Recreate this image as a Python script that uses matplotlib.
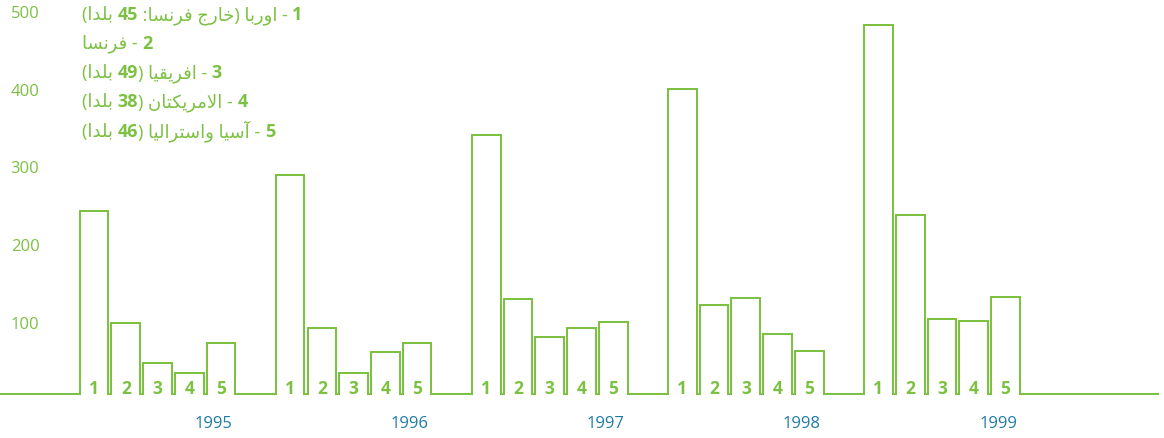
import re
import unicodedata
import matplotlib
matplotlib.use("Agg")
import matplotlib.pyplot as plt

# ---------------- data ----------------
years = ["1995", "1996", "1997", "1998", "1999"]
bar_labels = ["1", "2", "3", "4", "5"]
v1995 = [236, 92, 40, 28, 66]
v1996 = [283, 85, 27, 55, 66]
v1997 = [334, 123, 74, 86, 93]
v1998 = [394, 115, 124, 78, 56]
v1999 = [476, 231, 97, 94, 125]
values = [v1995, v1996, v1997, v1998, v1999]
ytick_values = [100, 200, 300, 400, 500]
legend_items = [
    "اوربا (خارج فرنسا: 45 بلدا)",
    "فرنسا",
    "افريقيا (49 بلدا)",
    "الامريكتان (38 بلدا)",
    "آسيا واستراليا (46 بلدا)",
]

# ---------------- style ----------------
GREEN = "#7cc142"
BLUE = "#1f7ca6"
FONT = ["Open Sans", "DejaVu Sans"]
plt.rcParams["font.family"] = FONT

GROUP_PITCH = 6.176   # in bar-pitch units
BAR_W = 0.904

# ---------------- Arabic shaping / bidi helpers ----------------
RIGHT_JOIN = set("اآأإدذرزوؤة")
ALEFS = set("اآأإ")


def is_ar(c):
    return "\u0621" <= c <= "\u064A"


def joins_next(c):
    return is_ar(c) and c not in RIGHT_JOIN and c != "ء"


def pres(c, form):
    try:
        return unicodedata.lookup(unicodedata.name(c) + " " + form + " FORM")
    except KeyError:
        return c


def shape(s):
    out = []
    i = 0
    n = len(s)
    while i < n:
        c = s[i]
        if not is_ar(c):
            out.append(c)
            i += 1
            continue
        prev_c = s[i - 1] if i > 0 else ""
        pc = bool(prev_c) and joins_next(prev_c)
        if c == "ل" and i + 1 < n and s[i + 1] in ALEFS:
            form = "FINAL" if pc else "ISOLATED"
            out.append(unicodedata.lookup("ARABIC LIGATURE LAM WITH ALEF " + form + " FORM"))
            i += 2
            continue
        next_c = s[i + 1] if i + 1 < n else ""
        nc = joins_next(c) and bool(next_c) and is_ar(next_c)
        if pc and nc:
            f = "MEDIAL"
        elif pc:
            f = "FINAL"
        elif nc:
            f = "INITIAL"
        else:
            f = "ISOLATED"
        out.append(pres(c, f))
        i += 1
    return "".join(out)


def rtl_visual(s):
    v = shape(s)[::-1]
    v = re.sub(r"\d+", lambda m: m.group(0)[::-1], v)
    v = v.translate(str.maketrans("()", ")("))
    return v


# ---------------- figure ----------------
fig = plt.figure(figsize=(11.64, 4.38), dpi=100)
ax = fig.add_axes([0, 0, 1, 1])
ax.set_xlim(-2.51, 34.15)
ax.set_ylim(-56.3, 508.1)
ax.axis("off")

# continuous outline path (baseline + bars)
xs = [-2.6]
ys = [0]
for g, vals in enumerate(values):
    for k, v in enumerate(vals):
        left = g * GROUP_PITCH + k
        right = left + BAR_W
        xs += [left, left, right, right]
        ys += [0, v, v, 0]
        ax.text((left + right) / 2, 0.5, bar_labels[k], ha="center", va="baseline",
                fontsize=12.5, fontweight="bold", color=GREEN)
    ax.text(g * GROUP_PITCH + 4.22, -43.5, years[g], ha="center", va="baseline",
            fontsize=12, color=BLUE)
xs.append(33.97)
ys.append(0)
ax.plot(xs, ys, color=GREEN, lw=1.45, solid_joinstyle="miter")

# y tick labels (top of digits at value)
for t in ytick_values:
    ax.text(-1.72, t, str(t), ha="center", va="top", fontsize=12, color=GREEN)

# legend (right-to-left lines, numbers bold)
line_baselines = [482.0, 445.5, 407.5, 370.0, 331.5]
x0 = 82 / 1164
for i, item in enumerate(legend_items):
    logical = f"{i + 1} - {item}"
    visual = rtl_visual(logical)
    parts = [p for p in re.split(r"(\d+)", visual) if p != ""]
    prev = None
    for p in parts:
        weight = "bold" if p.isdigit() else "normal"
        if prev is None:
            prev = ax.text(x0, line_baselines[i], p, transform=ax.get_yaxis_transform(),
                           ha="left", va="baseline", fontsize=13, fontweight=weight,
                           color=GREEN)
        else:
            prev = ax.annotate(p, xy=(1, line_baselines[i]), xycoords=(prev, "data"),
                               ha="left", va="baseline", fontsize=13,
                               fontweight=weight, color=GREEN)

fig.savefig("out.png", dpi=100)
